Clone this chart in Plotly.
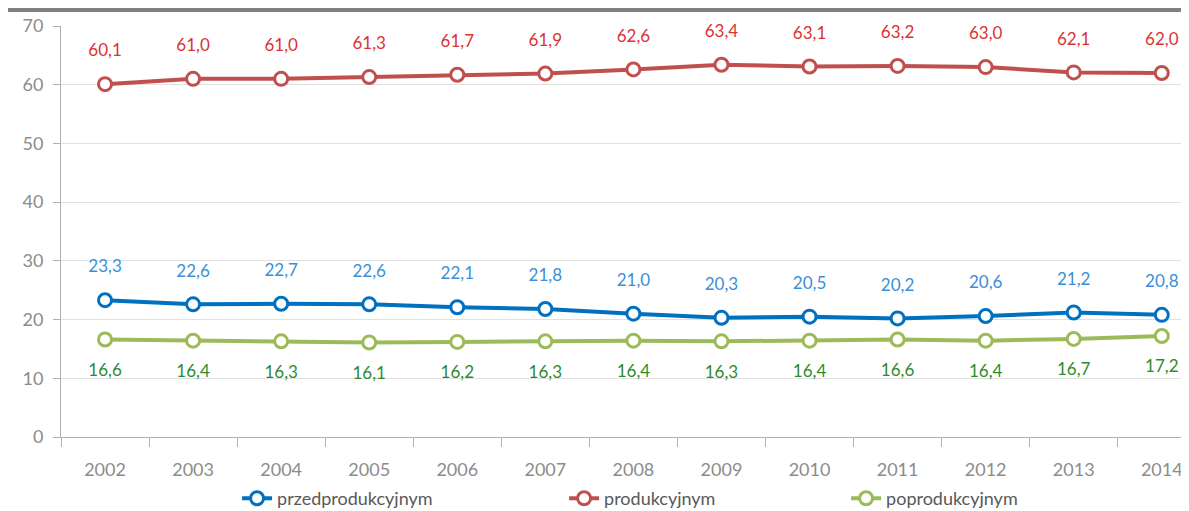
import plotly.graph_objects as go

years = [str(y) for y in range(2002, 2015)]
przed = [23.3, 22.6, 22.7, 22.6, 22.1, 21.8, 21.0, 20.3, 20.5, 20.2, 20.6, 21.2, 20.8]
prod = [60.1, 61.0, 61.0, 61.3, 61.7, 61.9, 62.6, 63.4, 63.1, 63.2, 63.0, 62.1, 62.0]
popr = [16.6, 16.4, 16.3, 16.1, 16.2, 16.3, 16.4, 16.3, 16.4, 16.6, 16.4, 16.7, 17.2]

series = [
    ("przedprodukcyjnym", przed, "#0070C0", "#3A8FD8", "top center", 282),
    ("produkcyjnym", prod, "#C0504D", "#D93333", "top center", 237),
    ("poprodukcyjnym", popr, "#9BBB59", "#2E8B2E", "bottom center", 170),
]

fmt = lambda v: f"{v:.1f}".replace(".", ",")

fig = go.Figure()
for name, vals, color, label_color, pos, ew in series:
    fig.add_trace(go.Scatter(
        x=years, y=vals, name=name, mode="lines+markers",
        line=dict(color=color, width=4),
        marker=dict(size=13, color="white", line=dict(color=color, width=3)),
        legendwidth=ew,
    ))
for name, vals, color, label_color, pos, ew in series:
    # invisible big markers push the value labels away from the line
    fig.add_trace(go.Scatter(
        x=years, y=vals, mode="markers+text", showlegend=False, hoverinfo="skip",
        text=[fmt(v) for v in vals], textposition=pos, cliponaxis=False,
        textfont=dict(size=17, color=label_color, family="Lato"),
        marker=dict(size=36, color="rgba(0,0,0,0)"),
    ))

# page body has an 8px margin, so margins are shifted by that
fig.update_layout(
    width=1189, height=511,
    margin=dict(l=53, r=0, t=18, b=82, autoexpand=False),
    paper_bgcolor="white", plot_bgcolor="white",
    font=dict(family="Lato", color="#808080", size=17),
    showlegend=True,
    legend=dict(orientation="h", x=0.155, xanchor="left",
                yref="container", y=0.04, yanchor="middle",
                font=dict(size=18, color="#595959"),
                traceorder="normal"),
    shapes=[dict(type="rect", xref="paper", yref="paper", x0=-0.06, x1=1.0,
                 y0=1.0 + 14 / 411, y1=1.0 + 18 / 411,
                 fillcolor="#808080", line=dict(width=0))],
)
fig.update_xaxes(
    type="category", range=[-0.5, 12.4],
    showline=True, linecolor="#B0B0B0", linewidth=1,
    ticks="outside", ticklen=9, tickcolor="#B0B0B0",
    tickson="boundaries", showgrid=False, ticklabelstandoff=16,
    tickfont=dict(size=18, color="#8C8C8C"),
)
fig.update_yaxes(
    range=[0, 70], dtick=10,
    showline=True, linecolor="#B0B0B0", linewidth=1,
    ticks="outside", ticklen=7, tickcolor="#B0B0B0",
    gridcolor="#E0E0E0", zeroline=False, ticklabelstandoff=6,
    tickfont=dict(size=18, color="#8C8C8C"),
)

fig.write_html("out.html")
